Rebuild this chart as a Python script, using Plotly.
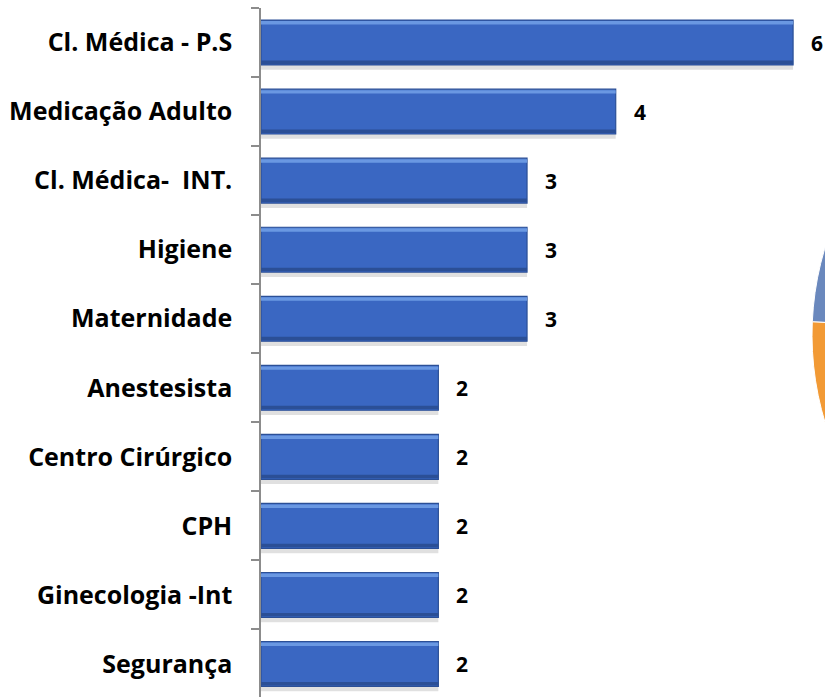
import plotly.graph_objects as go

# setores e número de ocorrências
setores = [
    "Cl. Médica - P.S",
    "Medicação Adulto",
    "Cl. Médica-  INT.",
    "Higiene",
    "Maternidade",
    "Anestesista",
    "Centro Cirúrgico",
    "CPH",
    "Ginecologia -Int",
    "Segurança",
]
ocorrencias = [6, 4, 3, 3, 3, 2, 2, 2, 2, 2]

# pizza ao lado, só a borda esquerda aparece no recorte
pizza_fatias = ["A", "B"]
pizza_valores = [50, 50]
pizza_cores = ["#6a88bd", "#f29a35"]

BAR_BLUE = "#3a67c2"
BAR_LIGHT = "#6a98e2"
BAR_DARK = "#2b4f96"
AXIS_GRAY = "#8c8c8c"
FONT = "'Open Sans', Lato, sans-serif"

# a figura é mais larga que a janela para que a pizza fique cortada à direita
MARGIN_L = 261
MARGIN_T = 8
FIG_W = 1414
FIG_H = 697
PLOT_W = FIG_W - MARGIN_L
PLOT_H = FIG_H - MARGIN_T
BAR_DOMAIN = 564 / PLOT_W

fig = go.Figure()

# sombra suave abaixo das barras
fig.add_trace(
    go.Bar(
        y=setores, x=ocorrencias, orientation="h",
        width=0.65, offset=-0.255,
        marker=dict(color="rgba(0,0,0,0.12)", line=dict(width=0)),
        hoverinfo="skip", showlegend=False,
    )
)
# barra principal
fig.add_trace(
    go.Bar(
        y=setores, x=ocorrencias, orientation="h",
        width=0.65, offset=-0.325,
        marker=dict(color=BAR_BLUE, line=dict(color=BAR_DARK, width=1.2)),
        showlegend=False,
    )
)
# brilho no topo
fig.add_trace(
    go.Bar(
        y=setores, x=ocorrencias, orientation="h",
        width=0.05, offset=-0.31,
        marker=dict(color=BAR_LIGHT, line=dict(width=0)),
        hoverinfo="skip", showlegend=False,
    )
)
# borda escura embaixo
fig.add_trace(
    go.Bar(
        y=setores, x=ocorrencias, orientation="h",
        width=0.05, offset=0.26,
        marker=dict(color=BAR_DARK, line=dict(width=0)),
        hoverinfo="skip", showlegend=False,
    )
)

pie_cy = (FIG_H - 335) / PLOT_H
pie_half = 301 / PLOT_H
fig.add_trace(
    go.Pie(
        labels=pizza_fatias,
        values=pizza_valores,
        marker=dict(colors=pizza_cores, line=dict(color="white", width=1)),
        sort=False,
        direction="clockwise",
        rotation=-87.5,
        textinfo="none",
        hoverinfo="skip",
        showlegend=False,
        domain=dict(
            x=[(812 - MARGIN_L) / PLOT_W, 1],
            y=[pie_cy - pie_half, pie_cy + pie_half],
        ),
    )
)

for setor, valor in zip(setores, ocorrencias):
    fig.add_annotation(
        x=valor, y=setor,
        text=f"<b>{valor}</b>",
        showarrow=False,
        xanchor="left",
        xshift=16,
        font=dict(family=FONT, size=21, color="black"),
    )

fig.update_layout(
    width=FIG_W,
    height=FIG_H,
    margin=dict(l=MARGIN_L, r=0, t=MARGIN_T, b=0),
    paper_bgcolor="white",
    plot_bgcolor="white",
    barmode="overlay",
    font=dict(family=FONT, color="black"),
)

fig.update_xaxes(
    domain=[0, BAR_DOMAIN],
    range=[0, 6.36],
    showgrid=False,
    zeroline=False,
    showticklabels=False,
    showline=False,
)

fig.update_yaxes(
    categoryorder="array",
    categoryarray=setores,
    range=[9.478, -0.5],
    automargin=False,
    showgrid=False,
    showline=True,
    linecolor=AXIS_GRAY,
    linewidth=1.5,
    ticks="outside",
    tickson="boundaries",
    ticklen=8,
    tickcolor=AXIS_GRAY,
    tickwidth=1.5,
    ticklabelstandoff=22,
    tickfont=dict(family=FONT, size=25, color="black", weight="bold"),
)

# sem margem nem barras de rolagem na página
fig.write_html(
    "out.html",
    post_script="document.body.style.margin='0';document.body.style.overflow='hidden';",
)
